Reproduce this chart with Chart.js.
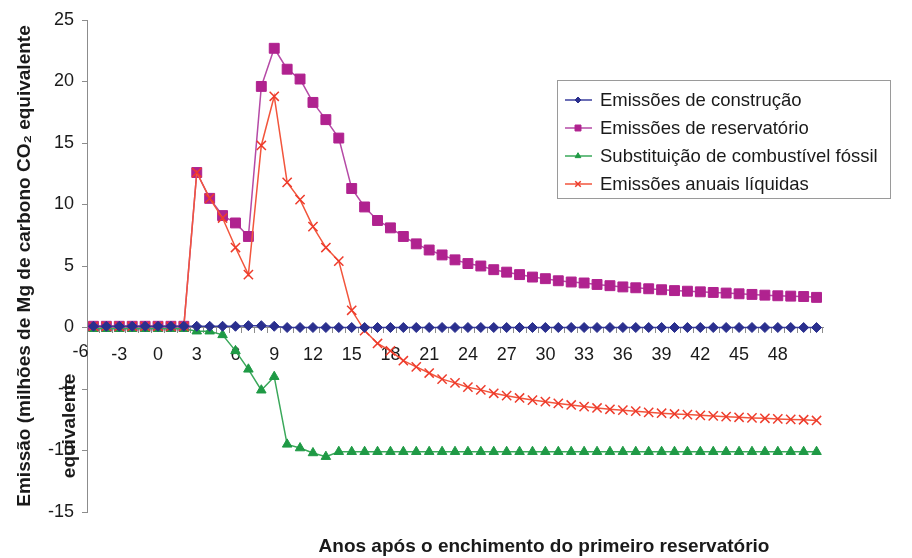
<!DOCTYPE html>
<html>
<head>
<meta charset="utf-8">
<script src="https://cdn.jsdelivr.net/npm/chart.js@4"></script>
<style>
  body { margin: 0; background: #fff; }
</style>
</head>
<body>
<canvas id="grafico" width="912" height="558"></canvas>
<script>
// anos após o enchimento (-5 .. 51)
const anos = [-5,-4,-3,-2,-1,0,1,2,3,4,5,6,7,8,9,10,11,12,13,14,15,16,17,18,19,20,21,22,23,24,25,26,27,28,29,30,31,32,33,34,35,36,37,38,39,40,41,42,43,44,45,46,47,48,49,50,51];

// rótulos do eixo x como aparecem na figura ("-6" fica antes do eixo y)
const rotuloInicial = '-6';
const rotulosX = ['','','-3','','','0','','','3','','','6','','','9','','','12','','','15','','','18','','','21','','','24','','','27','','','30','','','33','','','36','','','39','','','42','','','45','','','48','','',''];

const construcao = [0.1,0.1,0.1,0.1,0.1,0.1,0.1,0.1,
  0.1,0.1,0.1,0.1,0.15,0.15,0.1,
  0,0,0,0,0,0,0,0,0,0,0,0,0,0,0,0,0,0,0,0,0,0,0,0,0,0,0,0,0,0,0,0,0,0,0,0,0,0,0,0,0,0];

const reservatorio = [0.1,0.1,0.1,0.1,0.1,0.1,0.1,0.1,
  12.6,10.5,9.1,8.5,7.4,
  19.6,22.7,21.0,20.2,18.3,16.9,15.4,
  11.3,9.8,8.7,8.1,7.4,6.8,6.3,5.9,5.5,5.2,5.0,
  4.7,4.5,4.3,4.1,3.97,3.8,3.7,3.62,3.5,3.4,
  3.3,3.23,3.15,3.07,3.0,2.95,2.9,2.85,2.8,2.74,
  2.69,2.63,2.58,2.55,2.52,2.45];

const substituicao = [-0.1,-0.1,-0.1,-0.1,-0.1,-0.1,-0.1,-0.1,
  -0.3,-0.3,-0.6,-1.9,-3.4,-5.1,-4.0,
  -9.5,-9.8,-10.2,-10.5,
  -10.1,-10.1,-10.1,-10.1,-10.1,-10.1,-10.1,-10.1,-10.1,-10.1,
  -10.1,-10.1,-10.1,-10.1,-10.1,-10.1,-10.1,-10.1,-10.1,-10.1,
  -10.1,-10.1,-10.1,-10.1,-10.1,-10.1,-10.1,-10.1,-10.1,-10.1,
  -10.1,-10.1,-10.1,-10.1,-10.1,-10.1,-10.1,-10.1];

const liquidas = [0.1,0.1,0.1,0.1,0.1,0.1,0.1,0.1,
  12.6,10.5,8.9,6.5,4.3,
  14.8,18.8,11.8,10.4,8.2,6.5,5.4,
  1.4,-0.25,-1.3,-1.9,-2.7,-3.2,-3.7,-4.2,-4.5,-4.85,-5.07,
  -5.35,-5.54,-5.73,-5.9,-6.03,-6.17,-6.3,-6.43,-6.54,-6.65,
  -6.72,-6.8,-6.9,-6.97,-7.03,-7.08,-7.14,-7.19,-7.25,-7.3,
  -7.35,-7.38,-7.43,-7.47,-7.5,-7.56];

const fonte = "'Liberation Sans', Arial, sans-serif";
const corTexto = '#1a1a1a';
const corEixo = '#8c8c8c';

// legenda desenhada dentro da área do gráfico, como na figura
const legendaInterna = {
  id: 'legendaInterna',
  afterDraw(chart) {
    const ctx = chart.ctx;
    const a = chart.chartArea;
    const sx = chart.scales.x;
    const sy = chart.scales.y;
    const x0 = a.right - 266, y0 = 80, w = 333, h = 118;
    ctx.save();
    ctx.strokeStyle = '#9a9a9a';
    ctx.lineWidth = 1;
    ctx.strokeRect(x0 + 0.5, y0 + 0.5, w, h);
    ctx.font = '18.5px ' + fonte;
    ctx.textBaseline = 'middle';
    chart.data.datasets.forEach((ds, i) => {
      const y = y0 + 20 + i * 28;
      ctx.strokeStyle = ds.borderColor;
      ctx.lineWidth = 1.5;
      ctx.beginPath();
      ctx.moveTo(x0 + 8, y);
      ctx.lineTo(x0 + 35, y);
      ctx.stroke();
      ctx.fillStyle = ds.pointBackgroundColor;
      ctx.strokeStyle = ds.pointBorderColor;
      ctx.lineWidth = ds.pointBorderWidth;
      Chart.helpers.drawPoint(ctx, {
        pointStyle: ds.pointStyle,
        radius: ds.pointRadius * 0.6,
        borderWidth: ds.pointBorderWidth
      }, x0 + 21, y);
      ctx.fillStyle = corTexto;
      ctx.fillText(ds.label, x0 + 43, y + 1);
    });
    // rótulo "-6" uma categoria antes da primeira
    const passo = sx.getPixelForTick(1) - sx.getPixelForTick(0);
    ctx.font = '18px ' + fonte;
    ctx.textAlign = 'center';
    ctx.textBaseline = 'top';
    ctx.fillText(rotuloInicial, sx.getPixelForTick(0) - passo, sy.getPixelForValue(0) + 16);
    // título do eixo x e o resto do rótulo vertical
    ctx.textBaseline = 'middle';
    ctx.font = 'bold 19px ' + fonte;
    ctx.fillText('Anos após o enchimento do primeiro reservatório', a.left + 457, 547);
    ctx.translate(70, sy.getPixelForValue(-8));
    ctx.rotate(-Math.PI / 2);
    ctx.fillText('equivalente', 0, 0);
    ctx.restore();
  }
};

function serie(label, dados, cor, corLinha, estilo, raio, ordem) {
  return {
    label: label,
    data: dados,
    borderColor: corLinha,
    backgroundColor: cor,
    pointBackgroundColor: cor,
    pointBorderColor: cor,
    pointStyle: estilo,
    pointRadius: raio,
    pointBorderWidth: estilo === 'crossRot' ? 1.5 : 1,
    borderWidth: 1.5,
    tension: 0,
    order: ordem
  };
}

const ctx = document.getElementById('grafico').getContext('2d');
const chart = new Chart(ctx, {
  type: 'line',
  data: {
    labels: anos,
    datasets: [
      serie('Emissões de construção', construcao, '#2a2f8e', '#3b3f9e', 'rectRot', 5, 0),
      serie('Emissões de reservatório', reservatorio, '#b0228f', '#b54aa6', 'rect', 7, 3),
      serie('Substituição de combustível fóssil', substituicao, '#1f9a45', '#3aa85a', 'triangle', 5.5, 2),
      serie('Emissões anuais líquidas', liquidas, '#ee3b2b', '#f2553c', 'crossRot', 6.5, 1)
    ]
  },
  plugins: [legendaInterna],
  options: {
    responsive: false,
    animation: false,
    devicePixelRatio: 1,
    layout: { padding: { left: 0, top: 20, right: 89, bottom: 46 } },
    plugins: {
      legend: { display: false },
      tooltip: { enabled: false }
    },
    scales: {
      x: {
        type: 'category',
        position: { y: 0 },
        offset: true,
        grid: { display: true, drawOnChartArea: false, drawTicks: true, tickLength: 5, offset: true, color: corEixo },
        border: { color: corEixo, width: 1 },
        ticks: {
          autoSkip: false,
          maxRotation: 0,
          padding: 12,
          color: corTexto,
          font: { family: fonte, size: 18 },
          callback: (v, i) => rotulosX[i]
        }
      },
      y: {
        min: -15,
        max: 25,
        afterFit(scale) { scale.width = 87; },
        grid: { display: true, drawOnChartArea: false, drawTicks: true, tickLength: 5, color: corEixo },
        border: { color: corEixo, width: 1 },
        ticks: {
          stepSize: 5,
          padding: 8,
          color: corTexto,
          font: { family: fonte, size: 18 }
        },
        title: {
          display: true,
          text: 'Emissão (milhões de Mg de carbono CO₂ equivalente',
          color: corTexto,
          font: { family: fonte, size: 19, weight: 'bold' },
          padding: { top: 13, bottom: 0 }
        }
      }
    }
  }
});
</script>
</body>
</html>
